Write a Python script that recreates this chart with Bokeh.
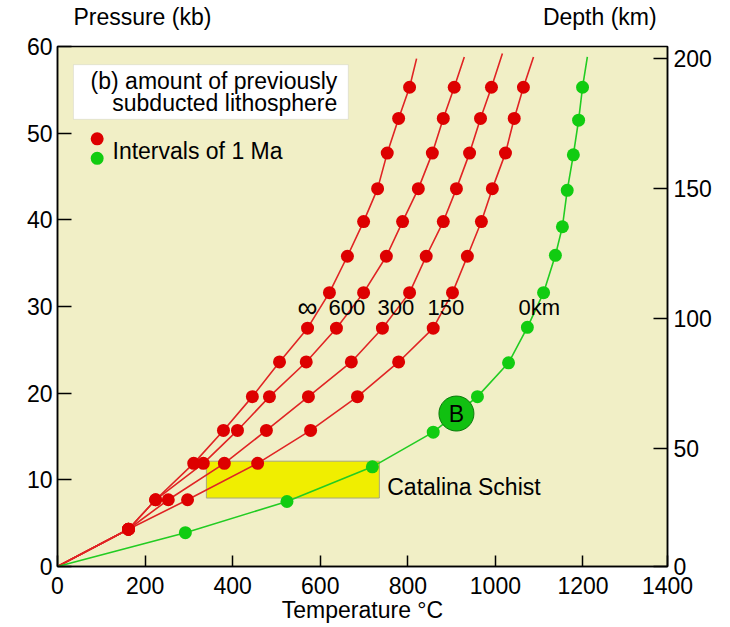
from bokeh.plotting import figure
from bokeh.layouts import column
from bokeh.models import Range1d, LinearAxis, FixedTicker, Label, BoxAnnotation
from bokeh.embed import file_html
from bokeh.resources import INLINE

FONT = "Liberation Sans"
FS = "23px"

# Pressure (kb) reached at each 1 Ma step down the slab (shared by the red geotherms)
red_p = [4.3, 7.7, 11.9, 15.7, 19.6, 23.6, 27.5, 31.6, 35.8, 39.8, 43.6, 47.7, 51.7, 55.3]

# Slab-top temperature (°C) for different amounts of previously subducted lithosphere
t_inf = [162, 224, 311, 379, 445, 507, 571, 621, 662, 699, 731, 753, 779, 804]
t_600 = [162, 224, 333, 411, 484, 568, 637, 699, 751, 788, 824, 856, 881, 906]
t_300 = [162, 253, 381, 477, 573, 671, 742, 804, 842, 881, 911, 941, 966, 991]
t_150 = [162, 297, 457, 578, 685, 779, 858, 902, 936, 968, 993, 1023, 1043, 1064]

# Where each red curve ends at the top of the diagram
red_end_t = [820, 929, 1016, 1087]
red_end_p = [58.6, 58.8, 59.2, 58.8]

# 0 km of previous subduction (green geotherm)
green_p = [3.9, 7.5, 11.5, 15.5, 19.6, 23.5, 27.6, 31.6, 35.9, 39.2, 43.4, 47.5, 51.5, 55.3]
green_t = [292, 524, 719, 858, 959, 1030, 1073, 1110, 1137, 1153, 1164, 1178, 1190, 1199]
green_end_t = 1210
green_end_p = 58.8

# Point B on the green geotherm
b_t = [911]
b_p = [17.65]

# Catalina Schist P-T field
schist_t = [340, 735]
schist_p = [7.9, 12.15]

curve_labels = ["600", "300", "150", "0km"]
x_ticks = [0, 200, 400, 600, 800, 1000, 1200, 1393]
x_tick_text = {1393: "1400"}
y_ticks = [0, 10, 20, 30, 40, 50, 60]
depth_ticks = [4.6, 50, 100, 150, 200]
depth_tick_text = {4.6: "0"}

RED_LINE = "#e02424"
RED_DOT = "#dd0000"
GREEN_LINE = "#22cc22"
GREEN_DOT = "#11cc11"
BG = "#f1efc6"

# strip above the diagram holding the two axis titles
HEAD_H = 30
head = figure(width=730, height=HEAD_H, x_range=Range1d(0, 730), y_range=Range1d(0, HEAD_H),
              x_axis_type=None, y_axis_type=None, output_backend="svg",
              toolbar_location=None, min_border=0)
head.outline_line_color = None
head.background_fill_color = "white"
head.border_fill_color = "white"
head.xgrid.visible = False
head.ygrid.visible = False
head.add_layout(Label(x=19, y=14, text="Pressure (kb)", text_align="left",
                      text_baseline="alphabetic", text_font=FONT, text_font_size=FS,
                      text_color="black"))
head.add_layout(Label(x=717, y=14, text="Depth (km)", text_align="right",
                      text_baseline="alphabetic", text_font=FONT, text_font_size=FS,
                      text_color="black"))

p = figure(width=730, height=627 - HEAD_H, x_range=Range1d(0, 1393), y_range=Range1d(0, 60),
           output_backend="svg", toolbar_location=None,
           min_border_left=57, min_border_right=63, min_border_top=46 - HEAD_H,
           min_border_bottom=61)
p.background_fill_color = BG
p.border_fill_color = "white"
p.outline_line_color = "black"
p.outline_line_width = 1.5
p.xgrid.visible = False
p.ygrid.visible = False

left = p.left[0]
bottom = p.below[0]
left.ticker = FixedTicker(ticks=y_ticks)
bottom.ticker = FixedTicker(ticks=x_ticks)
bottom.major_label_overrides = x_tick_text
bottom.axis_label = "Temperature \u00b0C"
bottom.axis_label_text_font = FONT
bottom.axis_label_text_font_size = FS
bottom.axis_label_text_font_style = "normal"
bottom.axis_label_text_color = "black"
bottom.axis_label_standoff = 0

# depth scale on the right
p.extra_y_ranges = {"depth": Range1d(4.6, 204.6)}
right = LinearAxis(y_range_name="depth", ticker=FixedTicker(ticks=depth_ticks),
                   major_label_overrides=depth_tick_text)
p.add_layout(right, "right")

for ax in (left, bottom, right):
    ax.major_label_text_font = FONT
    ax.major_label_text_font_size = FS
    ax.major_label_text_color = "black"
    ax.major_tick_out = 0
    ax.minor_tick_line_color = None
    ax.axis_line_width = 1.5
    ax.major_tick_line_width = 1.5
bottom.major_tick_in = 11
bottom.major_label_standoff = 10
left.major_tick_in = 14
left.major_label_standoff = 5
right.major_tick_in = 14
right.major_label_standoff = 6

# Catalina Schist box
p.quad(left=schist_t[0], right=schist_t[1], bottom=schist_p[0], top=schist_p[1],
       fill_color="#f0ee00", line_color="#a8a878", line_width=1)

# red geotherms
for temps, et, ep in zip([t_inf, t_600, t_300, t_150], red_end_t, red_end_p):
    p.line([0] + temps + [et], [0] + red_p + [ep], line_color=RED_LINE, line_width=1.6)
for temps in [t_150, t_300, t_600, t_inf]:
    p.scatter(temps, red_p, size=13, fill_color=RED_DOT, line_color=None)

# green geotherm
p.line([0] + green_t + [green_end_t], [0] + green_p + [green_end_p],
       line_color=GREEN_LINE, line_width=1.6)
p.scatter(green_t, green_p, size=13, fill_color=GREEN_DOT, line_color=None)

# point B
p.scatter(b_t, b_p, size=35, fill_color="#11c011", line_color="#0b7a0b", line_width=1)
p.add_layout(Label(x=b_t[0], y=b_p[0], text="B", text_align="center", text_baseline="middle",
                   text_font=FONT, text_font_size=FS, text_color="black"))


def label(x, y, text, align="left", baseline="alphabetic", size=FS):
    p.add_layout(Label(x=x, y=y, text=text, text_align=align, text_baseline=baseline,
                       text_font=FONT, text_font_size=size, text_color="black"))


# curve labels: amount of previously subducted lithosphere
label(548, 29.85, "\u221e", size="28px")
for txt, x in zip(curve_labels, [619, 731, 845, 1053]):
    label(x, 29.85, txt, size="22px")

label(753, 9.23, "Catalina Schist")

# caption box
p.add_layout(BoxAnnotation(left=36.5, right=664, top=57.9, bottom=51.6,
                           fill_color="white", fill_alpha=1.0,
                           line_color="#bdbdbd", line_width=1))
label(639, 56.07, "(b) amount of previously", align="right")
label(639, 53.52, "subducted lithosphere", align="right")

# key for the dots
p.scatter([90.6], [49.35], size=13, fill_color=RED_DOT, line_color=None)
p.scatter([90.6], [47.1], size=13, fill_color=GREEN_DOT, line_color=None)
label(125.6, 48.0, "Intervals of 1 Ma")

open("out.html", "w").write(file_html(column(head, p, spacing=0), INLINE))
